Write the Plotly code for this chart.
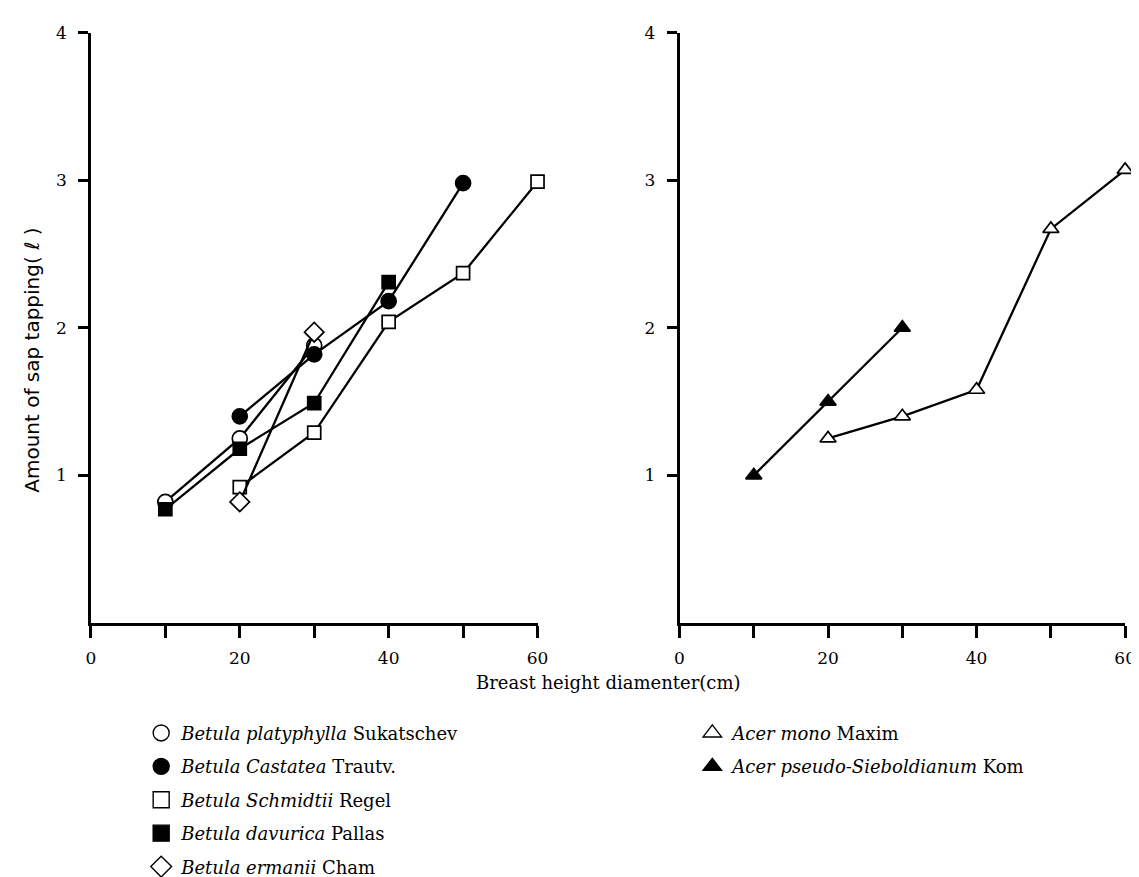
import plotly.graph_objects as go

W, H = 1139, 877

# ---------------- data ----------------
x_platyphylla = [10, 20, 30]
y_platyphylla = [0.82, 1.25, 1.88]

x_castatea = [20, 30, 40, 50]
y_castatea = [1.40, 1.82, 2.18, 2.98]

x_schmidtii = [20, 30, 40, 50, 60]
y_schmidtii = [0.92, 1.29, 2.04, 2.37, 2.99]

x_davurica = [10, 20, 30, 40]
y_davurica = [0.77, 1.18, 1.49, 2.31]

x_ermanii = [20, 30]
y_ermanii = [0.82, 1.97]

x_mono = [20, 30, 40, 50, 60]
y_mono = [1.25, 1.40, 1.58, 2.67, 3.07]

x_pseudo = [10, 20, 30]
y_pseudo = [1.00, 1.50, 2.00]

x_tickvals = [0, 10, 20, 30, 40, 50, 60]
x_ticktext = ["0", "", "20", "", "40", "", "60"]
y_tickvals = [1, 2, 3, 4]
y_ticktext = ["1", "2", "3", "4"]

names_left = [
    "<i>Betula platyphylla</i> Sukatschev",
    "<i>Betula Castatea</i> Trautv.",
    "<i>Betula Schmidtii</i> Regel",
    "<i>Betula davurica</i> Pallas",
    "<i>Betula ermanii</i> Cham",
]
names_right = [
    "<i>Acer mono</i> Maxim",
    "<i>Acer pseudo-Sieboldianum</i> Kom",
]

# ---------------- styles ----------------
BLACK = "black"
WHITE = "white"
series_left = [
    (x_platyphylla, y_platyphylla, "circle", WHITE, 15),
    (x_castatea, y_castatea, "circle", BLACK, 15),
    (x_schmidtii, y_schmidtii, "square", WHITE, 13),
    (x_davurica, y_davurica, "square", BLACK, 13),
    (x_ermanii, y_ermanii, "diamond", WHITE, 15),
]
series_right = [
    (x_mono, y_mono, "triangle-up", WHITE, 14),
    (x_pseudo, y_pseudo, "triangle-up", BLACK, 14),
]

fig = go.Figure()

for xs, ys, sym, fill, sz in series_left:
    fig.add_trace(go.Scatter(
        x=xs, y=ys, mode="lines+markers", xaxis="x", yaxis="y",
        line=dict(color=BLACK, width=2.3),
        marker=dict(symbol=sym, size=sz, color=fill, line=dict(color=BLACK, width=1.7)),
        showlegend=False, cliponaxis=False, hoverinfo="skip",
    ))
for xs, ys, sym, fill, sz in series_right:
    fig.add_trace(go.Scatter(
        x=xs, y=ys, mode="lines+markers", xaxis="x2", yaxis="y2",
        line=dict(color=BLACK, width=2.3),
        marker=dict(symbol=sym, size=sz, color=fill, line=dict(color=BLACK, width=1.7)),
        showlegend=False, cliponaxis=False, hoverinfo="skip",
    ))

# legend-only entries
for i, ((xs, ys, sym, fill, sz), nm) in enumerate(zip(series_left, names_left)):
    fig.add_trace(go.Scatter(
        x=[None], y=[None], mode="markers", name=nm, legend="legend",
        legendgroup="L%d" % i,
        marker=dict(symbol=sym, size=16, color=fill, line=dict(color=BLACK, width=1.4)),
    ))
for i, ((xs, ys, sym, fill, sz), nm) in enumerate(zip(series_right, names_right)):
    fig.add_trace(go.Scatter(
        x=[None], y=[None], mode="markers", name=nm, legend="legend2",
        legendgroup="R%d" % i,
        marker=dict(symbol=sym, size=16, color=fill, line=dict(color=BLACK, width=1.4)),
    ))

TICKFONT = dict(family="DejaVu Serif", size=17, color=BLACK)

def xax(domain):
    return dict(
        domain=domain, range=[0, 60], showline=True, linecolor=BLACK, linewidth=2.5,
        ticks="outside", ticklen=12, tickwidth=2.5, tickcolor=BLACK,
        tickvals=x_tickvals, ticktext=x_ticktext, tickfont=TICKFONT,
        ticklabelstandoff=6, showgrid=False, zeroline=False, fixedrange=True,
    )

def yax(anchor):
    return dict(
        domain=[(H - 619) / H, (H - 15) / H], range=[0, 4], anchor=anchor,
        showline=True, linecolor=BLACK, linewidth=2.5,
        ticks="outside", ticklen=10, tickwidth=2.5, tickcolor=BLACK,
        tickvals=y_tickvals, ticktext=y_ticktext, tickfont=TICKFONT,
        ticklabelstandoff=8, showgrid=False, zeroline=False, fixedrange=True,
    )

legend_common = dict(
    xanchor="left", yanchor="top", orientation="v",
    font=dict(family="DejaVu Serif", size=18, color=BLACK),
    bgcolor="rgba(0,0,0,0)", borderwidth=0, tracegroupgap=7,
    itemclick=False, itemdoubleclick=False,
)

fig.update_layout(
    width=W, height=H,
    margin=dict(l=0, r=0, t=0, b=0),
    paper_bgcolor=WHITE, plot_bgcolor=WHITE,
    xaxis=xax([79 / W, 532 / W]) | dict(anchor="y"),
    yaxis=yax("x"),
    xaxis2=xax([676 / W, 1128 / W]) | dict(anchor="y2"),
    yaxis2=yax("x2"),
    legend=dict(x=130 / W, y=(H - 713) / H, **legend_common),
    legend2=dict(x=689 / W, y=(H - 713) / H, **legend_common),
    showlegend=True,
    annotations=[
        dict(text="Breast height diamenter(cm)", xref="paper", yref="paper",
             x=604 / W, y=(H - 680) / H, xanchor="center", yanchor="middle",
             showarrow=False, font=dict(family="DejaVu Serif", size=18, color=BLACK)),
        dict(text="Amount of sap tapping(\u00a0\u2113\u00a0)", xref="paper", yref="paper",
             x=19 / W, y=(H - 350) / H, xanchor="center", yanchor="middle",
             textangle=-90, showarrow=False,
             font=dict(family="DejaVu Sans", size=20, color=BLACK)),
    ],
)

fig.write_html("out.html")
